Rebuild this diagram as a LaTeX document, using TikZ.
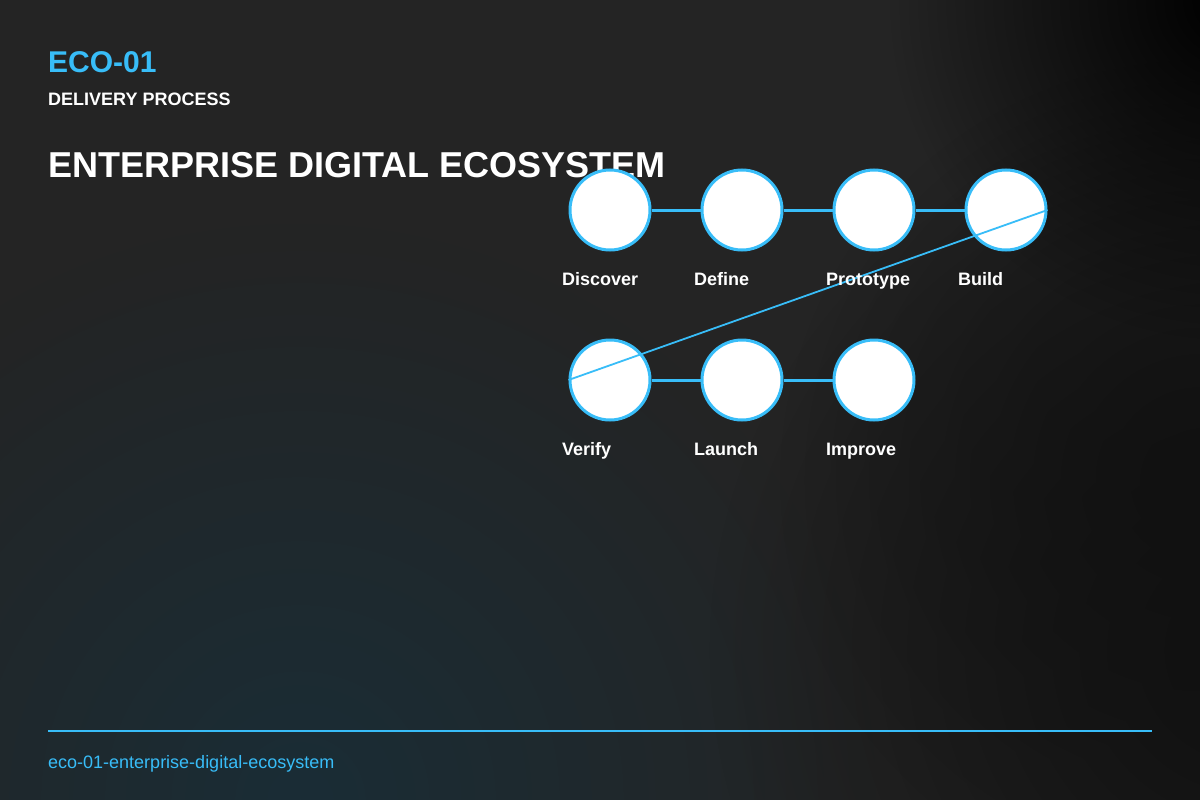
\documentclass[tikz,border=0pt]{standalone}
\usepackage{fontspec}
\setmainfont{Liberation Sans}
\usetikzlibrary{fadings}
\definecolor{accent}{HTML}{38BDF8}
\definecolor{bgbase}{HTML}{242424}
\definecolor{bgdark}{HTML}{111111}
\definecolor{bgteal}{HTML}{1A2D36}
\tikzfading[name=softout, inner color=transparent!0, outer color=transparent!100]
\begin{document}
\begin{tikzpicture}[x=1pt,y=-1pt,
  stepnode/.style={circle, draw=accent, line width=3pt, fill=white, minimum size=80pt, inner sep=0pt},
  steplabel/.style={anchor=base west, inner sep=0pt, text=white, font=\bfseries\fontsize{18}{18}\selectfont},
  link/.style={draw=accent, line width=3pt},
  diag/.style={draw=accent, line width=1.8pt}]
\useasboundingbox (0,0) rectangle (1200,800);
% background
\fill[bgbase] (0,0) rectangle (1200,800);
\begin{scope}
\clip (0,0) rectangle (1200,800);
\fill[bgteal, path fading=softout] (300,800) circle (580);
\fill[bgdark, path fading=softout] (1250,650) circle (540);
\fill[bgdark, path fading=softout] (1200,480) circle (420);
\fill[black, path fading=softout] (1230,0) circle (340);
\end{scope}
% header
\node[anchor=base west, inner sep=0pt, text=accent, font=\bfseries\fontsize{30}{30}\selectfont] (code) at (48,73) {ECO-01};
\node[anchor=base west, inner sep=0pt, text=white, font=\bfseries\fontsize{18}{18}\selectfont] (sub) at (48,105) {DELIVERY PROCESS};
\node[anchor=base west, inner sep=0pt, text=white, font=\bfseries\fontsize{36}{36}\selectfont] (title) at (48,177) {ENTERPRISE DIGITAL ECOSYSTEM};
% steps
\node[stepnode] (s1) at (610,210) {};
\node[stepnode] (s2) at (742,210) {};
\node[stepnode] (s3) at (874,210) {};
\node[stepnode] (s4) at (1006,210) {};
\node[stepnode] (s5) at (610,380) {};
\node[stepnode] (s6) at (742,380) {};
\node[stepnode] (s7) at (874,380) {};
\draw[link] (s1) -- (s2);
\draw[link] (s2) -- (s3);
\draw[link] (s3) -- (s4);
\draw[link] (s5) -- (s6);
\draw[link] (s6) -- (s7);
\draw[diag] (s4.east) -- (s5.west);
\node[steplabel] (l1) at (562,285) {Discover};
\node[steplabel] (l2) at (694,285) {Define};
\node[steplabel] (l3) at (826,285) {Prototype};
\node[steplabel] (l4) at (958,285) {Build};
\node[steplabel] (l5) at (562,455) {Verify};
\node[steplabel] (l6) at (694,455) {Launch};
\node[steplabel] (l7) at (826,455) {Improve};
% footer
\coordinate (fl) at (48,731);
\coordinate (fr) at (1152,731);
\draw[accent, line width=2pt] (fl) -- (fr);
\node[anchor=base west, inner sep=0pt, text=accent, font=\fontsize{18}{18}\selectfont] (foot) at (48,768) {eco-01-enterprise-digital-ecosystem};
\end{tikzpicture}
\end{document}
